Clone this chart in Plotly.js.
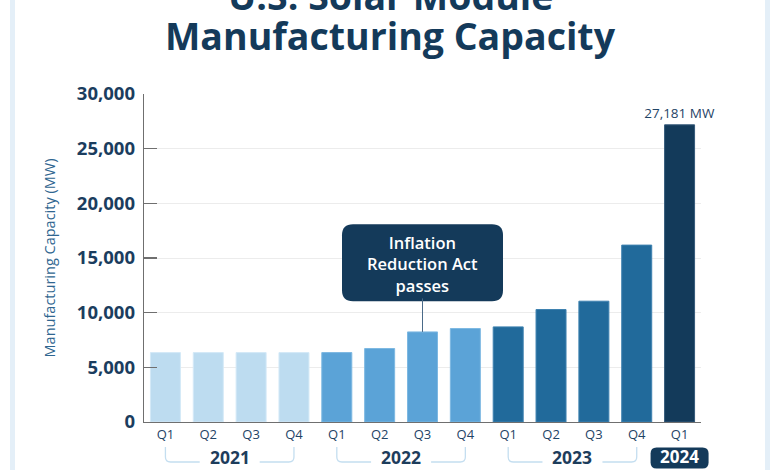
<!DOCTYPE html>
<html>
<head>
<meta charset="utf-8">
<script src="https://cdn.plot.ly/plotly-3.0.1.min.js"></script>
<style>html,body{margin:0;padding:0;background:#fff;}#chart{width:780px;height:470px;}</style>
</head>
<body>
<div id="chart"></div>
<script>
// ---- data ----
const quarters = ['Q1','Q2','Q3','Q4','Q1','Q2','Q3','Q4','Q1','Q2','Q3','Q4','Q1'];
const years = ['2021','2021','2021','2021','2022','2022','2022','2022','2023','2023','2023','2023','2024'];
const capacityMW = [6350, 6350, 6350, 6350, 6350, 6720, 8240, 8550, 8700, 10290, 11050, 16180, 27181];
const yearColors = {'2021':'#bddcf0','2022':'#5ba3d7','2023':'#216a9b','2024':'#133a5a'};
const yearEdge = {'2021':'#d4e9f7','2022':'#7db8e2','2023':'#3f82b0','2024':'#355a7a'};
const yTickVals = [0, 5000, 10000, 15000, 20000, 25000, 30000];
const eventLabel = 'Inflation<br>Reduction Act<br>passes';
const eventIndex = 6; // Q3 2022

const cats = quarters.map((q, i) => years[i] + ' ' + q);
const lastIdx = capacityMW.length - 1;
const barText = capacityMW.map((v, i) => i === lastIdx ? v.toLocaleString('en-US') + ' MW' : '');

const navy = '#143a5a';
const font = 'Open Sans, Lato, sans-serif';
const xRange = [-0.5, cats.length - 0.5];

const trace = {
  type: 'bar',
  x: cats,
  y: capacityMW,
  marker: {
    color: years.map(y => yearColors[y]),
    line: {color: years.map(y => yearEdge[y]), width: 1}
  },
  text: barText,
  textposition: 'outside',
  constraintext: 'none',
  cliponaxis: false,
  textfont: {family: font, size: 13.5, color: '#1f4466'},
  hoverinfo: 'x+y'
};

// year groups
const yearList = [...new Set(years)];
const shapes = [];
const annotations = [];

// frame strips
shapes.push({type:'rect', xref:'paper', yref:'paper', x0:-0.2406, x1:-0.2316, y0:-1, y1:2, fillcolor:'#e4eff8', line:{width:0}, layer:'below'});
shapes.push({type:'rect', xref:'paper', yref:'paper', x0:1.1149, x1:1.1239, y0:-1, y1:2, fillcolor:'#e4eff8', line:{width:0}, layer:'below'});

yearList.forEach(yr => {
  const first = years.indexOf(yr);
  const last = years.lastIndexOf(yr);
  const mid = (first + last) / 2;
  if (first === last) {
    // single-quarter year: dark rounded badge
    const frac = (first - xRange[0]) / (xRange[1] - xRange[0]);
    const w = 29, top = -25.5, bot = -46.5, r = 6;
    shapes.push({
      type: 'path', xref: 'x domain', yref: 'paper', xsizemode: 'pixel', ysizemode: 'pixel',
      xanchor: frac, yanchor: 0,
      path: `M ${-w+r},${top} L ${w-r},${top} Q ${w},${top} ${w},${top-r} L ${w},${bot+r} Q ${w},${bot} ${w-r},${bot} L ${-w+r},${bot} Q ${-w},${bot} ${-w},${bot+r} L ${-w},${top-r} Q ${-w},${top} ${-w+r},${top} Z`,
      fillcolor: navy, line: {width: 0}, layer: 'above'
    });
    annotations.push({xref:'x', yref:'paper', x: mid, y: 0, yshift: -47, yanchor:'bottom', showarrow:false, borderpad: 0,
      text: yr, font:{family: font, size: 17, weight: 700, color:'#ffffff'}});
  } else {
    const rr = 0.12, gap = 0.70, top = -25, bot = -40;
    shapes.push({
      type: 'path', xref: 'x', yref: 'paper', ysizemode: 'pixel', yanchor: 0,
      path: `M ${first},${top} L ${first},${bot+5} Q ${first},${bot} ${first+rr},${bot} L ${mid-gap},${bot}`,
      line: {color: '#c4def0', width: 1.3}, layer: 'above'
    });
    shapes.push({
      type: 'path', xref: 'x', yref: 'paper', ysizemode: 'pixel', yanchor: 0,
      path: `M ${mid+gap},${bot} L ${last-rr},${bot} Q ${last},${bot} ${last},${bot+5} L ${last},${top}`,
      line: {color: '#c4def0', width: 1.3}, layer: 'above'
    });
    annotations.push({xref:'x', yref:'paper', x: mid, y: 0, yshift: -47.5, yanchor:'bottom', showarrow:false, borderpad: 0,
      text: yr, font:{family: font, size: 17.5, weight: 700, color:'#1d3d5c'}});
  }
});

// event callout box
{
  const w = 80.5, b = 30.7, t = 107.7, r = 11;
  shapes.push({
    type: 'path', xref: 'x', yref: 'y', xsizemode: 'pixel', ysizemode: 'pixel',
    xanchor: cats[eventIndex], yanchor: capacityMW[eventIndex],
    path: `M ${-w+r},${t} L ${w-r},${t} Q ${w},${t} ${w},${t-r} L ${w},${b+r} Q ${w},${b} ${w-r},${b} L ${-w+r},${b} Q ${-w},${b} ${-w},${b+r} L ${-w},${t-r} Q ${-w},${t} ${-w+r},${t} Z`,
    fillcolor: navy, line: {width: 0}, layer: 'above'
  });
  annotations.push({
    xref:'x', yref:'y', x: cats[eventIndex], y: capacityMW[eventIndex],
    ax: 0, ay: -68, showarrow: true, arrowhead: 0, arrowwidth: 1, arrowcolor: '#4a6a88', standoff: 0,
    text: eventLabel, font: {family: font, size: 16.5, weight: 600, color: '#ffffff'}, align: 'center'
  });
}

// title
annotations.push({xref:'paper', yref:'paper', x: 0.4417, y: 1.300, xanchor:'center', yanchor:'middle', showarrow:false,
  text:'U.S. Solar Module', font:{family: font, size: 37.5, weight: 700, color: navy}});
annotations.push({xref:'paper', yref:'paper', x: 0.4417, y: 1.178, xanchor:'center', yanchor:'middle', showarrow:false,
  text:'Manufacturing Capacity', font:{family: font, size: 37.5, weight: 700, color: navy}});

const layout = {
  width: 780, height: 470,
  margin: {l: 144, r: 79, t: 94, b: 48, pad: 0},
  paper_bgcolor: '#ffffff', plot_bgcolor: '#ffffff',
  showlegend: false,
  bargap: 0.3,
  xaxis: {
    type: 'category', range: xRange,
    tickvals: cats, ticktext: quarters,
    showline: true, linecolor: '#6f6f6f', linewidth: 1.3,
    ticks: '', showgrid: false,
    tickfont: {family: font, size: 13, color: '#1f4466'}
  },
  yaxis: {
    range: [0, 30000], tickvals: yTickVals, tickformat: ',d',
    showline: true, linecolor: '#6f6f6f', linewidth: 1.3,
    ticks: 'inside', ticklen: 13, tickcolor: '#6f6f6f', tickwidth: 1.2,
    showgrid: true, gridcolor: '#ececec', gridwidth: 1, zeroline: false,
    tickfont: {family: font, size: 18.5, weight: 700, color: '#1b3d5e'},
    ticklabelstandoff: 4,
    title: {text: 'Manufacturing Capacity (MW)', standoff: 17, font: {family: font, size: 14.5, color: '#2f6690'}}
  },
  shapes: shapes,
  annotations: annotations
};

Plotly.newPlot('chart', [trace], layout, {displayModeBar: false, staticPlot: true});
</script>
</body>
</html>
